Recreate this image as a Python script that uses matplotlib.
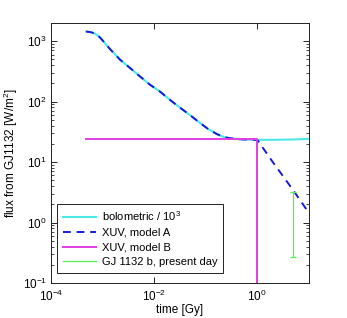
import numpy as np
import matplotlib
matplotlib.use("Agg")
import matplotlib.pyplot as plt
from matplotlib.ticker import LogLocator, NullLocator, FixedLocator
from matplotlib.lines import Line2D

plt.rcParams['font.family'] = ['Liberation Sans', 'DejaVu Sans']
plt.rcParams['mathtext.default'] = 'regular'

# bolometric flux / 1e3 (also XUV model A up to 1 Gy)
t_bol = [4.8e-4, 6e-4, 7.1e-4, 8.9e-4, 1.11e-3, 1.39e-3, 2.17e-3, 3.4e-3, 5.3e-3, 8.3e-3,
         1.29e-2, 2.02e-2, 3.16e-2, 4.94e-2, 7.7e-2, 0.11, 0.165, 0.215, 0.27,
         0.4, 0.7, 1.0, 2.0, 5.0, 10.0]
f_bol = [1440, 1400, 1330, 1150, 930, 740, 495, 360, 261, 190,
         147, 107, 79.4, 60, 44.5, 35.5, 29.0, 26.3, 25.1,
         24.0, 23.4, 23.3, 23.3, 23.6, 24.2]

# XUV model A after saturation
t_xuv_a = [2.0, 5.0, 10.0]
f_xuv_a = [10.0, 3.4, 1.45]

# XUV model B: saturated then zero
t_xuv_b = [4.8e-4, 1.0, 1.0]
f_xuv_b = [24.5, 24.5, 1e-3]

# present day GJ 1132 b
t_now = 4.9
f_now_lo, f_now_hi = 0.27, 3.2

fig = plt.figure(figsize=(3.47, 3.18), dpi=100)
ax = fig.add_axes([0.147, 0.110, 0.743, 0.818])

n_sat = t_bol.index(1.0) + 1
ax.loglog(t_bol, f_bol, color='#4de8e8', lw=1.5)
ax.loglog(t_bol[:n_sat] + t_xuv_a, f_bol[:n_sat] + f_xuv_a, color='#1a1ad6',
          lw=1.4, ls=(0, (4, 3)))
ax.loglog(t_xuv_b, f_xuv_b, color='#e23ee2', lw=1.4)
f_mid = np.sqrt(f_now_lo * f_now_hi)
ax.errorbar([t_now], [f_mid], yerr=[[f_mid - f_now_lo], [f_now_hi - f_mid]],
            color='#55ee55', lw=0.9, capsize=2, capthick=0.9, fmt='none')

ax.set_xlim(1e-4, 10)
ax.set_ylim(0.1, 2000)
ax.xaxis.set_major_locator(FixedLocator([1e-4, 1e-2, 1e0]))
ax.xaxis.set_minor_locator(NullLocator())
ax.yaxis.set_major_locator(FixedLocator([1e-1, 1e0, 1e1, 1e2, 1e3]))
ax.yaxis.set_minor_locator(LogLocator(base=10, subs=np.arange(2, 10), numticks=20))

ax.tick_params(which='both', direction='in', top=True, right=True, labelsize=8.5)
ax.tick_params(axis='x', pad=4)
ax.tick_params(axis='y', pad=3)
ax.tick_params(which='major', length=4, width=0.6)
ax.tick_params(which='minor', length=2, width=0.5)
for s in ax.spines.values():
    s.set_linewidth(0.7)
    s.set_color('#222222')

ax.set_xlabel('time [Gy]', fontsize=8.5, labelpad=0.5)
ax.set_ylabel('flux from GJ1132 [W/m$^2$]', fontsize=8.5, labelpad=2)

handles = [Line2D([], [], color='#4de8e8', lw=1.5),
           Line2D([], [], color='#1a1ad6', lw=1.4, ls=(0, (4, 3))),
           Line2D([], [], color='#e23ee2', lw=1.4),
           Line2D([], [], color='#55ee55', lw=0.9)]
labels = ['bolometric / 10$^3$', 'XUV, model A', 'XUV, model B', 'GJ 1132 b, present day']
leg = ax.legend(handles, labels, loc='lower left', bbox_to_anchor=(0.025, 0.04), fontsize=8,
                handlelength=3.0, handletextpad=0.5, borderpad=0.5, labelspacing=0.42,
                fancybox=False, framealpha=1, edgecolor='#222222', borderaxespad=0)
leg.get_frame().set_linewidth(0.7)

fig.savefig('out.png', dpi=100)
